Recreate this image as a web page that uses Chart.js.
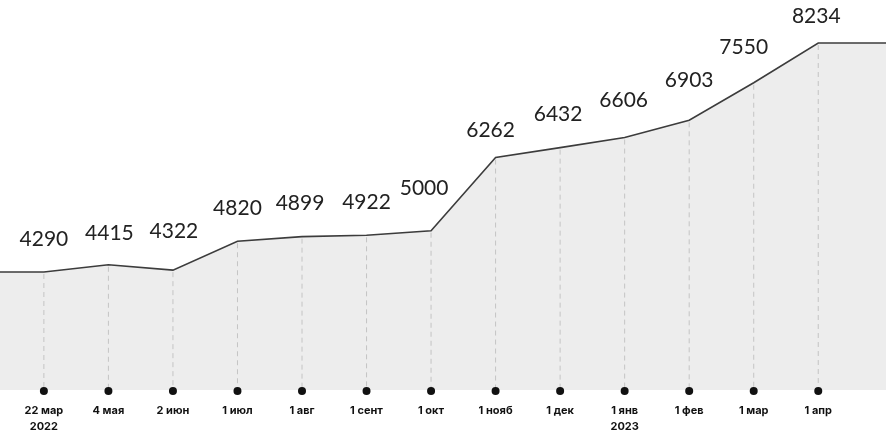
<!DOCTYPE html>
<html>
<head>
<meta charset="utf-8">
<script src="https://cdn.jsdelivr.net/npm/chart.js"></script>
<style>
  html, body { margin: 0; padding: 0; background: #fff; }
  #wrap { width: 886px; height: 439px; }
</style>
</head>
<body>
<div id="wrap"><canvas id="chart"></canvas></div>
<script>
// data
const dates = ['22 мар', '4 мая', '2 июн', '1 июл', '1 авг', '1 сент', '1 окт', '1 нояб', '1 дек', '1 янв', '1 фев', '1 мар', '1 апр'];
const years = ['2022', '', '', '', '', '', '', '', '', '2023', '', '', ''];
const subscribers = [4290, 4415, 4322, 4820, 4899, 4922, 5000, 6262, 6432, 6606, 6903, 7550, 8234];

// how far each value label sits above its point (px), and a sideways nudge
const labelLift = [33, 32, 39, 33, 33, 33, 43, 27, 33, 37, 40, 36, 27];
const labelNudge = [0, 1, 1, 0, -2, 0, -7, -5, -2, -1, 0, -10, -2];

// x range leaves room so the line runs flat to both edges
const xMin = -0.68, xMax = 13.05;

const points = subscribers.map((v, i) => ({ x: i, y: v }));
points.unshift({ x: xMin, y: subscribers[0] });
points.push({ x: xMax, y: subscribers[subscribers.length - 1] });

const markers = {
    id: 'markers',
    afterDatasetsDraw(chart) {
        const ctx = chart.ctx;
        const area = chart.chartArea;
        const meta = chart.getDatasetMeta(0);
        ctx.save();
        for (let i = 0; i < subscribers.length; i++) {
            const p = meta.data[i + 1];
            // dashed drop line
            ctx.strokeStyle = '#c4c4c4';
            ctx.lineWidth = 1;
            ctx.setLineDash([5, 4]);
            ctx.beginPath();
            ctx.moveTo(p.x, p.y + 2);
            ctx.lineTo(p.x, area.bottom);
            ctx.stroke();
            ctx.setLineDash([]);
            // dot
            ctx.fillStyle = '#111';
            ctx.beginPath();
            ctx.arc(p.x, area.bottom + 1, 4, 0, Math.PI * 2);
            ctx.fill();
            // value
            ctx.fillStyle = '#222';
            ctx.font = '21px Lato, "Noto Sans", sans-serif';
            ctx.textAlign = 'center';
            ctx.textBaseline = 'middle';
            ctx.fillText(String(subscribers[i]), p.x + labelNudge[i], p.y - labelLift[i]);
            // date
            ctx.fillStyle = '#111';
            ctx.font = 'bold 11px Inter, "Noto Sans", sans-serif';
            ctx.fillText(dates[i], p.x, area.bottom + 21);
            if (years[i]) ctx.fillText(years[i], p.x, area.bottom + 37);
        }
        ctx.restore();
    }
};

new Chart(document.getElementById('chart'), {
    type: 'line',
    data: {
        datasets: [{
            data: points,
            borderColor: '#3c3c3c',
            borderWidth: 1.6,
            backgroundColor: '#ededed',
            fill: 'start',
            pointRadius: 0,
            tension: 0
        }]
    },
    options: {
        responsive: true,
        maintainAspectRatio: false,
        animation: false,
        layout: { padding: { top: 0, left: 0, right: 0, bottom: 49 } },
        plugins: {
            legend: { display: false },
            tooltip: { enabled: false }
        },
        scales: {
            x: { type: 'linear', min: xMin, max: xMax, display: false },
            y: { min: 2258, max: 8975, display: false }
        }
    },
    plugins: [markers]
});
</script>
</body>
</html>
